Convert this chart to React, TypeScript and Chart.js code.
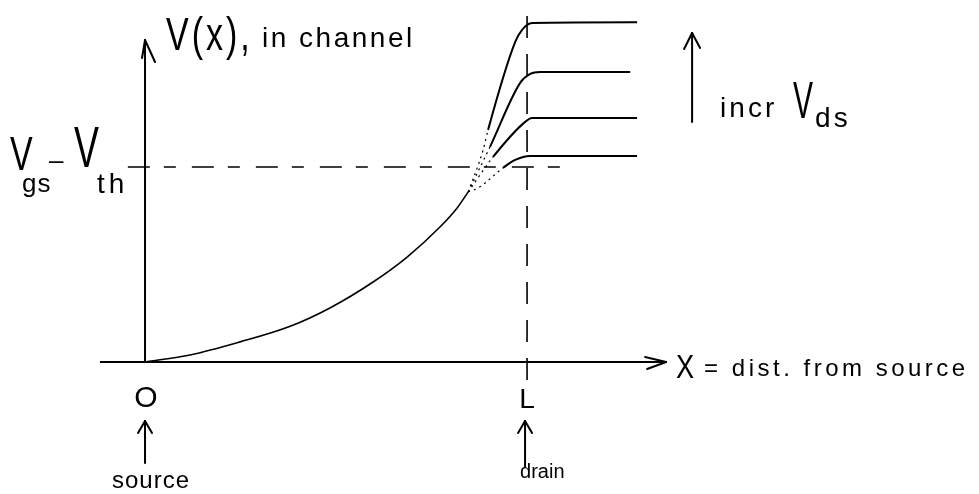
import React, { useEffect, useRef } from "react";
import { Chart, registerables } from "chart.js";

Chart.register(...registerables);

// ---- data (x in units of channel length L, V in units of Vgs - Vth) ----
const channelX = [0, 0.118, 0.249, 0.38, 0.484, 0.597, 0.686, 0.772, 0.817, 0.846];
const channelV = [0, 0.036, 0.103, 0.183, 0.277, 0.41, 0.538, 0.692, 0.79, 0.872];

const vds1X = [0.846, 0.885, 0.898, 0.969, 0.987, 1.013, 1.288];
const vds1V = [0.872, 1.087, 1.19, 1.641, 1.703, 1.738, 1.742];
const vds2X = [0.846, 0.903, 0.982, 1.008, 1.034, 1.27];
const vds2V = [0.872, 1.103, 1.431, 1.477, 1.487, 1.487];
const vds3X = [0.846, 0.911, 0.995, 1.013, 1.288];
const vds3V = [0.872, 1.051, 1.231, 1.251, 1.251];
const vds4X = [0.846, 0.872, 0.937, 0.969, 1.008, 1.288];
const vds4V = [0.872, 0.892, 0.995, 1.036, 1.056, 1.056];

const xAxisRange = [-0.118, 1.364];
const yAxisRange = [0, 1.651];
const drainX = 1;
const drainLineRange = [-0.092, 1.815];
const vSat = 1;
const vSatLineRange = [-0.045, 1.089];
const incrArrowX = 1.432;
const incrArrowRange = [1.231, 1.687];

const xScaleRange = [-0.3796, 2.183];
const yScaleRange = [-0.677, 1.856];

const pts = (xs: number[], ys: number[]) => xs.map((x, i) => ({ x, y: ys[i] }));

const FONT = '"Liberation Sans", Arial, sans-serif';

const annotations = {
  id: "annotations",
  afterDatasetsDraw(chart: any) {
    const ctx: CanvasRenderingContext2D = chart.ctx;
    const xs = chart.scales.x;
    const ys = chart.scales.y;
    const px = (v: number) => xs.getPixelForValue(v);
    const py = (v: number) => ys.getPixelForValue(v);
    ctx.save();
    ctx.strokeStyle = "#000";
    ctx.fillStyle = "#000";
    ctx.lineWidth = 2;
    ctx.lineCap = "round";
    const seg = (x1: number, y1: number, x2: number, y2: number) => {
      ctx.beginPath();
      ctx.moveTo(x1, y1);
      ctx.lineTo(x2, y2);
      ctx.stroke();
    };
    const text = (
      s: string,
      x: number,
      y: number,
      size: number,
      o: { sx?: number; sy?: number; align?: CanvasTextAlign; sp?: number } = {}
    ) => {
      ctx.save();
      ctx.translate(x, y);
      ctx.scale(o.sx ?? 1, o.sy ?? 1);
      ctx.font = `${size}px ${FONT}`;
      ctx.textAlign = o.align ?? "left";
      ctx.textBaseline = "alphabetic";
      (ctx as any).letterSpacing = `${o.sp ?? 0}px`;
      ctx.fillText(s, 0, 0);
      ctx.restore();
    };

    // y axis arrow head
    const yx = px(0);
    const yt = py(yAxisRange[1]);
    seg(yx, yt, yx - 3, yt + 18);
    seg(yx, yt, yx + 10, yt + 22);
    // x axis arrow head
    const xt = px(xAxisRange[1]);
    const x0 = py(0);
    seg(xt, x0, xt - 21, x0 - 5);
    seg(xt, x0, xt - 19, x0 + 7);
    // incr Vds arrow
    const ax = px(incrArrowX);
    seg(ax, py(incrArrowRange[0]), ax, py(incrArrowRange[1]));
    const at = py(incrArrowRange[1]);
    seg(ax, at, ax - 8, at + 16);
    seg(ax, at, ax + 8, at + 15);
    // source / drain arrows
    const sx = px(0);
    seg(sx, 463, sx, 421);
    seg(sx, 421, sx - 7, 433);
    seg(sx, 421, sx + 7, 433);
    const dx = px(drainX) - 2;
    seg(dx, 467, dx, 421);
    seg(dx, 421, dx - 7, 433);
    seg(dx, 421, dx + 7, 433);

    // texts
    text("V(x),", yx + 21, 50, 34, { sy: 1.35, sp: 3 });
    text("in channel", yx + 117, 47, 28, { sp: 2.5 });

    const vs = py(vSat);
    text("V", 10, vs + 3, 40, { sx: 0.85, sy: 1.2 });
    text("gs", 22, vs + 25, 26, { sp: 1 });
    text("–", 49, vs + 2, 26);
    text("V", 74, vs, 44, { sx: 0.85, sy: 1.3 });
    text("th", 97, vs + 26, 28, { sp: 4 });

    text("incr", ax + 28, 117, 28, { sp: 3 });
    text("V", ax + 101, 118, 40, { sx: 0.75, sy: 1.3 });
    text("ds", ax + 123, 127, 28, { sp: 3 });

    text("X", xt + 10, x0 + 16, 32, { sx: 0.85, sy: 1.05 });
    text("= dist. from source", xt + 38, x0 + 14, 24, { sp: 3.5 });

    text("O", px(0) + 1, 407, 30, { align: "center" });
    text("L", px(drainX), 408, 28, { align: "center" });
    text("source", sx - 33, 488, 24, { sp: 1 });
    text("drain", dx - 5, 478, 20);

    ctx.restore();
  },
};

export default function App() {
  const ref = useRef<HTMLCanvasElement | null>(null);
  useEffect(() => {
    if (!ref.current) return;
    const black = "#000";
    const fan = (xs: number[], ys: number[], dottedEnd: number) => ({
      data: pts(xs, ys),
      borderColor: black,
      borderWidth: 2,
      pointRadius: 0,
      cubicInterpolationMode: "monotone" as const,
      segment: {
        borderDash: (c: any) => (c.p1.parsed.x <= dottedEnd ? [2, 4] : undefined),
        borderWidth: (c: any) => (c.p1.parsed.x <= dottedEnd ? 1.2 : 2),
      },
    });
    const chart = new Chart(ref.current, {
      type: "line",
      data: {
        datasets: [
          {
            data: pts(xAxisRange, [0, 0]),
            borderColor: black,
            borderWidth: 2,
            pointRadius: 0,
          },
          {
            data: pts([0, 0], yAxisRange),
            borderColor: black,
            borderWidth: 2,
            pointRadius: 0,
          },
          {
            data: pts([drainX, drainX], drainLineRange),
            borderColor: black,
            borderWidth: 1.6,
            borderDash: [22, 16],
            pointRadius: 0,
          },
          {
            data: pts(vSatLineRange, [vSat, vSat]),
            borderColor: black,
            borderWidth: 1.6,
            borderDash: [22, 14, 12, 16],
            pointRadius: 0,
          },
          {
            data: pts(channelX, channelV),
            borderColor: black,
            borderWidth: 1.6,
            pointRadius: 0,
            cubicInterpolationMode: "monotone" as const,
          },
          fan(vds1X, vds1V, 0.898),
          fan(vds2X, vds2V, 0.903),
          fan(vds3X, vds3V, 0.911),
          fan(vds4X, vds4V, 0.937),
        ],
      },
      options: {
        animation: false,
        responsive: false,
        devicePixelRatio: 1,
        layout: { padding: 0 },
        plugins: { legend: { display: false }, tooltip: { enabled: false } },
        events: [],
        scales: {
          x: { type: "linear", min: xScaleRange[0], max: xScaleRange[1], display: false },
          y: { type: "linear", min: yScaleRange[0], max: yScaleRange[1], display: false },
        },
      },
      plugins: [annotations],
    });
    return () => chart.destroy();
  }, []);
  return (
    <div style={{ position: "fixed", left: 0, top: 0, width: 979, height: 494, background: "#fff" }}>
      <canvas ref={ref} width={979} height={494} style={{ display: "block" }} />
    </div>
  );
}
